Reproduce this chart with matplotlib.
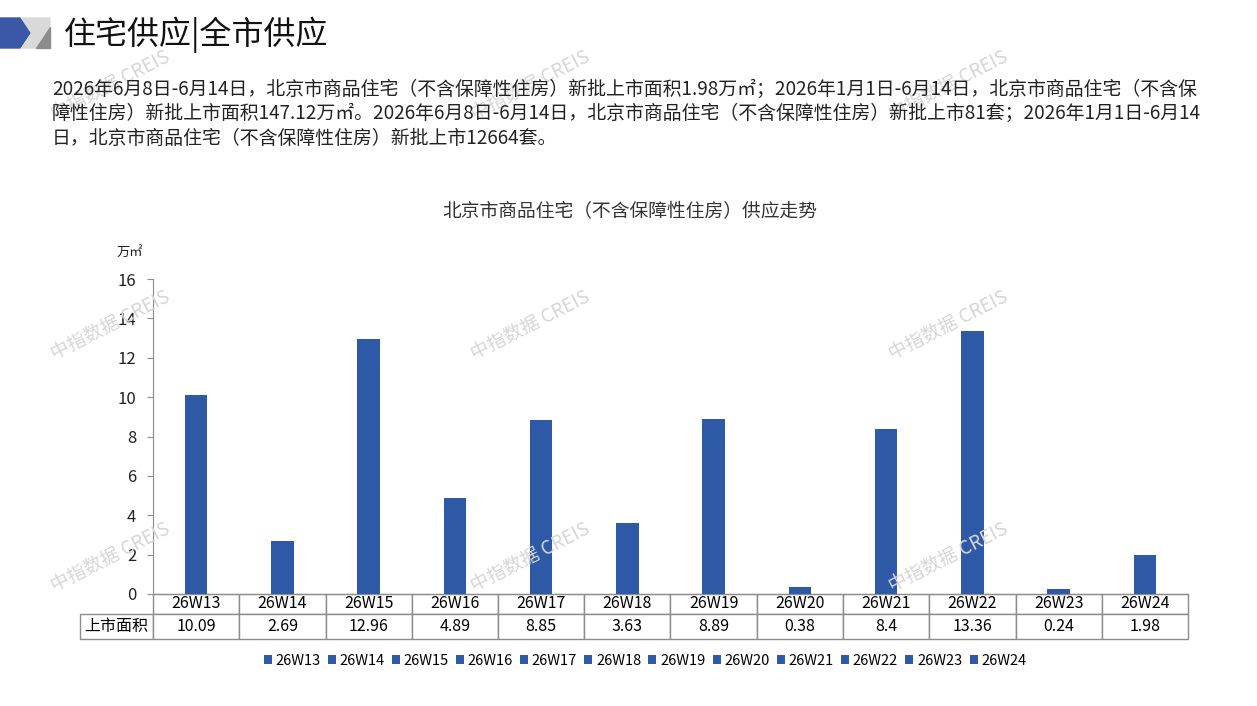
import matplotlib
matplotlib.use("Agg")
import matplotlib.pyplot as plt
from matplotlib.patches import Polygon

plt.rcParams['font.family'] = ['Noto Sans CJK SC', 'DejaVu Sans']

weeks = ['26W13', '26W14', '26W15', '26W16', '26W17', '26W18',
         '26W19', '26W20', '26W21', '26W22', '26W23', '26W24']
area = [10.09, 2.69, 12.96, 4.89, 8.85, 3.63, 8.89, 0.38, 8.4, 13.36, 0.24, 1.98]
area_labels = ['10.09', '2.69', '12.96', '4.89', '8.85', '3.63',
               '8.89', '0.38', '8.4', '13.36', '0.24', '1.98']
row_name = '上市面积'

page_title = '住宅供应|全市供应'
chart_title = '北京市商品住宅（不含保障性住房）供应走势'
unit = '万㎡'
desc_lines = [
    '2026年6月8日-6月14日，北京市商品住宅（不含保障性住房）新批上市面积1.98万㎡；2026年1月1日-6月14日，北京市商品住宅（不含保',
    '障性住房）新批上市面积147.12万㎡。2026年6月8日-6月14日，北京市商品住宅（不含保障性住房）新批上市81套；2026年1月1日-6月14',
    '日，北京市商品住宅（不含保障性住房）新批上市12664套。',
]

bar_color = '#2E59A7'
grid_gray = '#8C8C8C'

W, H = 1257, 706
fig = plt.figure(figsize=(W / 100, H / 100), dpi=100)

# header icon
fig.patches.append(Polygon([(0/W, 1-18/H), (20/W, 1-18/H), (30/W, 1-33/H), (20/W, 1-48/H), (0/W, 1-48/H)],
                           closed=True, transform=fig.transFigure, color='#3A57A8'))
fig.patches.append(Polygon([(22/W, 1-18/H), (50/W, 1-18/H), (50/W, 1-48/H), (22/W, 1-48/H), (32/W, 1-33/H)],
                           closed=True, transform=fig.transFigure, color='#D9D9D9'))
fig.patches.append(Polygon([(50/W, 1-27/H), (50/W, 1-48/H), (36/W, 1-48/H)],
                           closed=True, transform=fig.transFigure, color='#8C8C8C'))
fig.text(64/W, 1-35/H, page_title, fontsize=23, va='center', ha='left', color='#111111')

for i, line in enumerate(desc_lines):
    fig.text(52/W, 1-(89 + i*24.5)/H, line, fontsize=13.6, va='center', ha='left', color='#222222')

# watermarks
for wx in (110, 530, 948):
    for wy in (85, 325, 557):
        fig.text(wx/W, 1-wy/H, '中指数据 CREIS', fontsize=13.5, rotation=27, color='#D6D6D6',
                 ha='center', va='center', zorder=0)

ax = fig.add_axes([153/W, 1-594/H, 1035/W, 315/H])
x = range(len(weeks))
for i in x:
    ax.bar(i, area[i], width=0.26, color=bar_color, label=weeks[i], zorder=2)

ax.set_xlim(-0.5, len(weeks) - 0.5)
ax.set_ylim(0, 16)
ax.set_yticks(range(0, 17, 2))
ax.set_xticks([])
for s in ('top', 'right'):
    ax.spines[s].set_visible(False)
ax.spines['left'].set_color(grid_gray)
ax.spines['bottom'].set_color(grid_gray)
ax.tick_params(axis='y', colors=grid_gray, labelcolor='#222222', labelsize=12, length=4, pad=8)
ax.patch.set_alpha(0)

fig.text(630/W, 1-212/H, chart_title, fontsize=13.5, ha='center', va='center', color='#333333')
fig.text(130/W, 1-252/H, unit, fontsize=9.5, ha='center', va='center', color='#222222')

# data table under the axis: first column holds the row name
col_w = 1.0 / len(weeks)
lab_w = col_w * 73 / 86
tbl = ax.table(cellText=[[''] + weeks, [row_name] + area_labels],
               colWidths=[lab_w] + [col_w] * len(weeks),
               cellLoc='center',
               bbox=[-lab_w, -45/315, 1 + lab_w, 45/315])
tbl.auto_set_font_size(False)
for (r, c), cell in tbl.get_celld().items():
    cell.set_edgecolor(grid_gray)
    cell.set_linewidth(1.0)
    cell.set_fontsize(11.5)
    cell.set_height(20 if r == 0 else 25)
    if r == 0 and c == 0:
        cell.visible_edges = ''

leg = ax.legend(loc='center', bbox_to_anchor=(645/W, 1-661/H), bbox_transform=fig.transFigure,
                ncol=12, frameon=False, fontsize=10.5, handlelength=0.55, handleheight=0.55,
                handletextpad=0.25, columnspacing=0.5)

fig.savefig('out.png', dpi=100)
